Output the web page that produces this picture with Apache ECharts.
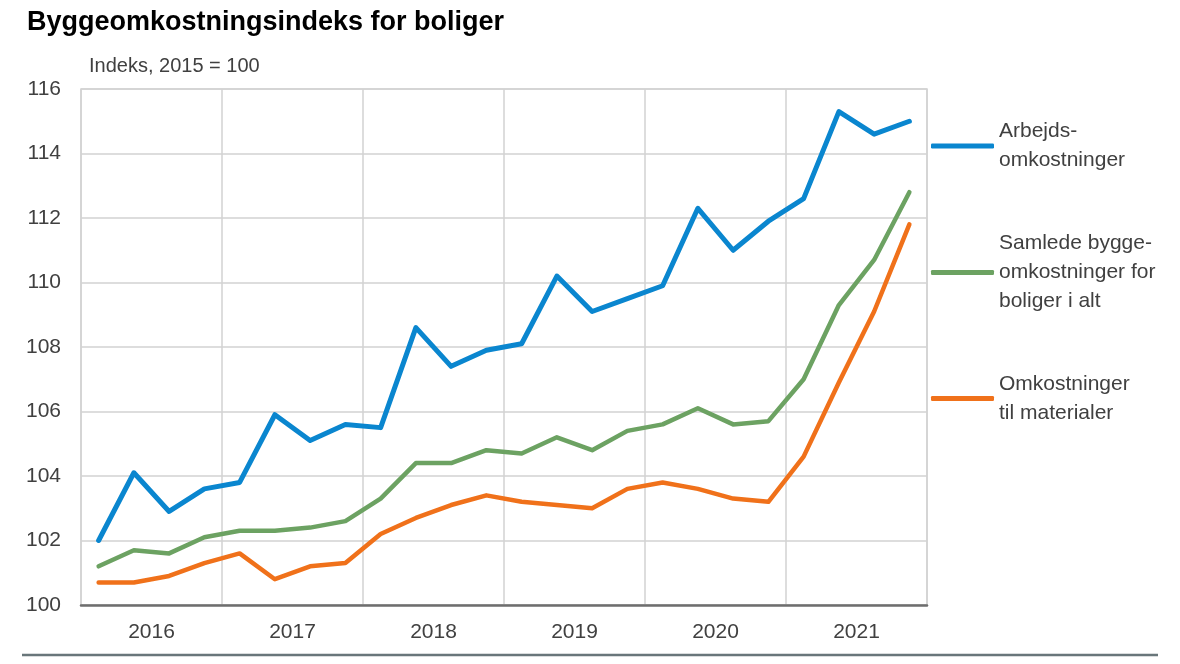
<!DOCTYPE html>
<html>
<head>
<meta charset="utf-8">
<script src="https://cdn.jsdelivr.net/npm/echarts@6/dist/echarts.min.js"></script>
<style>
html,body{margin:0;padding:0;background:#fff;}
#chart{width:1180px;height:664px;}
</style>
</head>
<body>
<div id="chart"></div>
<script>
var quarters = ['2016K1','2016K2','2016K3','2016K4','2017K1','2017K2','2017K3','2017K4','2018K1','2018K2','2018K3','2018K4','2019K1','2019K2','2019K3','2019K4','2020K1','2020K2','2020K3','2020K4','2021K1','2021K2','2021K3','2021K4'];
var years = ['2016','2017','2018','2019','2020','2021'];
var arbejds = [102.0,104.1,102.9,103.6,103.8,105.9,105.1,105.6,105.5,108.6,107.4,107.9,108.1,110.2,109.1,109.5,109.9,112.3,111.0,111.9,112.6,115.3,114.6,115.0];
var samlede = [101.2,101.7,101.6,102.1,102.3,102.3,102.4,102.6,103.3,104.4,104.4,104.8,104.7,105.2,104.8,105.4,105.6,106.1,105.6,105.7,107.0,109.3,110.7,112.8];
var materialer = [100.7,100.7,100.9,101.3,101.6,100.8,101.2,101.3,102.2,102.7,103.1,103.4,103.2,103.1,103.0,103.6,103.8,103.6,103.3,103.2,104.6,106.9,109.1,111.8];
var names = ['Arbejds-\nomkostninger','Samlede bygge-\nomkostninger for\nboliger i alt','Omkostninger\ntil materialer'];
var colors = ['#0a86cf','#6ca262','#f0711a'];

var FONT = "'Liberation Sans',Arial,sans-serif";
var TXT = '#404040';
var LH = 29;

function legendFor(i, top, nLines) {
  return {
    show: true,
    data: [{name: names[i], icon: 'roundRect'}],
    orient: 'vertical',
    left: 931,
    top: top,
    padding: 0,
    itemWidth: 63,
    itemHeight: 5,
    selectedMode: false,
    itemStyle: {color: colors[i]},
    textStyle: {
      fontFamily: FONT,
      fontSize: 21,
      color: TXT,
      lineHeight: LH,
      padding: [LH * (nLines - 1), 0, 0, 0]
    }
  };
}

var chart = echarts.init(document.getElementById('chart'), null, {renderer: 'canvas'});
chart.setOption({
  animation: false,
  backgroundColor: '#ffffff',
  title: [
    {text: 'Byggeomkostningsindeks for boliger', left: 27, top: 9, padding: 0,
     textStyle: {fontFamily: FONT, fontWeight: 'bold', fontSize: 27, color: '#000'}},
    {text: 'Indeks, 2015 = 100', left: 89, top: 56, padding: 0,
     textStyle: {fontFamily: FONT, fontWeight: 'normal', fontSize: 20, color: TXT}}
  ],
  legend: [
    legendFor(0, 146 - (LH * 3) / 2, 2),
    legendFor(1, 272.5 - (LH * 5) / 2, 3),
    legendFor(2, 398.5 - (LH * 3) / 2, 2)
  ],
  grid: {left: 81, right: 253, top: 89, bottom: 59, show: true, borderColor: '#d2d2d2', borderWidth: 1.5},
  xAxis: [
    {
      type: 'category', data: quarters, boundaryGap: true, position: 'bottom',
      axisLine: {show: true, lineStyle: {color: '#6e6e6e', width: 2.5}},
      axisTick: {show: false},
      axisLabel: {show: false},
      splitLine: {show: true, interval: function (idx) { return idx % 4 === 0; }, lineStyle: {color: '#d2d2d2', width: 1.5}}
    },
    {
      type: 'category', data: years, boundaryGap: true, position: 'bottom',
      axisLine: {show: false}, axisTick: {show: false}, splitLine: {show: false},
      axisLabel: {show: true, margin: 17, fontFamily: FONT, fontSize: 21, color: TXT}
    }
  ],
  yAxis: {
    type: 'value', min: 100, max: 116, interval: 2,
    axisLine: {show: false}, axisTick: {show: false},
    axisLabel: {margin: 20, fontFamily: FONT, fontSize: 21, color: TXT},
    splitLine: {show: true, lineStyle: {color: '#d2d2d2', width: 1.5}}
  },
  series: [
    {name: names[0], type: 'line', data: arbejds, xAxisIndex: 0, symbol: 'none', color: colors[0],
     lineStyle: {width: 5, color: colors[0], cap: 'round', join: 'round'}, z: 5},
    {name: names[1], type: 'line', data: samlede, xAxisIndex: 0, symbol: 'none', color: colors[1],
     lineStyle: {width: 4.5, color: colors[1], cap: 'round', join: 'round'}, z: 4},
    {name: names[2], type: 'line', data: materialer, xAxisIndex: 0, symbol: 'none', color: colors[2],
     lineStyle: {width: 4.5, color: colors[2], cap: 'round', join: 'round'}, z: 3}
  ],
  graphic: [
    {type: 'line', shape: {x1: 22, y1: 655, x2: 1158, y2: 655}, style: {stroke: '#69767a', lineWidth: 2.5}}
  ]
});
</script>
</body>
</html>
